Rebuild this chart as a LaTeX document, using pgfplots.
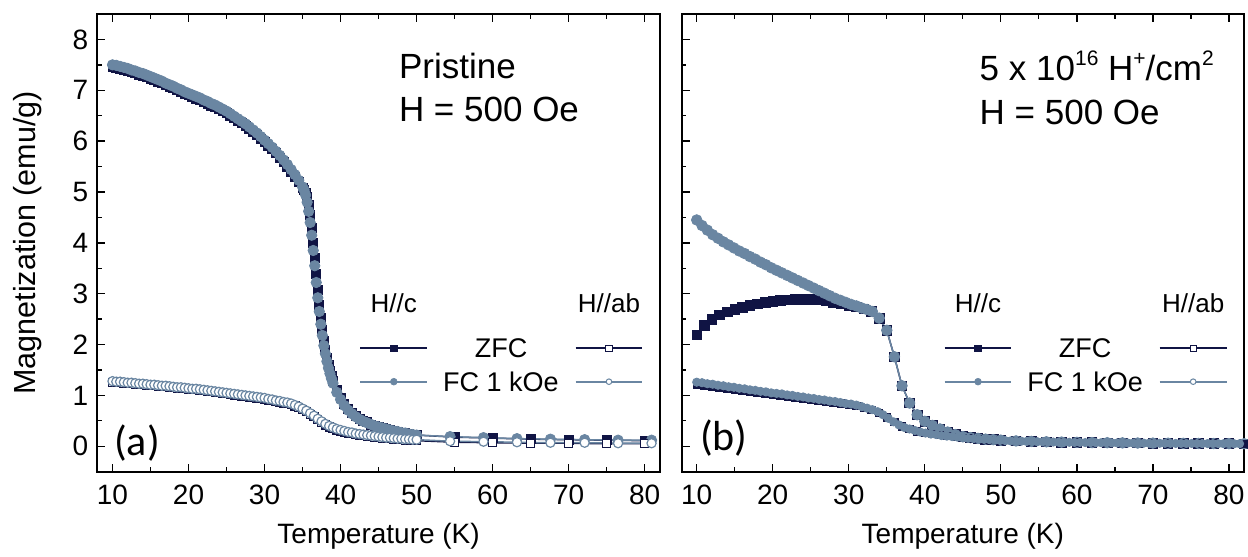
\documentclass[border=0pt]{standalone}
\usepackage{fontspec}
\setmainfont{Liberation Sans}
\newfontfamily\panelfont{Carlito}
\usepackage{pgfplots}
\usepackage{pgfplotstable}
\pgfplotsset{compat=1.18}

\definecolor{navy}{RGB}{16,20,68}
\definecolor{steel}{RGB}{106,134,162}

\newcommand\tickfont{\fontsize{28}{28}\selectfont}
\newcommand\labfont{\fontsize{28}{28}\selectfont}
\newcommand\ylabfont{\fontsize{30.5}{30.5}\selectfont}
\newcommand\annfont{\fontsize{35}{35}\selectfont}
\newcommand\legfont{\fontsize{27}{27}\selectfont}
\newcommand\hdrfont{\fontsize{26}{26}\selectfont}
\newcommand\tagfont{\panelfont\fontsize{42}{42}\selectfont}
\newcommand\sups[1]{\raisebox{0.42em}{\fontsize{21}{21}\selectfont #1}}

% ---------------- pristine sample, H // c ----------------
\pgfplotstableread{
T zfc fc
10.0 7.46 7.50
10.5 7.45 7.49
11.0 7.43 7.47
11.5 7.41 7.45
12.0 7.39 7.43
12.5 7.36 7.40
13.0 7.34 7.38
13.5 7.31 7.35
14.0 7.29 7.33
14.5 7.26 7.30
15.0 7.23 7.27
15.5 7.20 7.24
16.0 7.17 7.21
16.5 7.14 7.18
17.0 7.10 7.14
17.5 7.07 7.11
18.0 7.04 7.08
18.5 7.00 7.04
19.0 6.97 7.01
19.5 6.93 6.97
20.0 6.90 6.94
20.5 6.87 6.91
21.0 6.84 6.88
21.5 6.81 6.85
22.0 6.77 6.81
22.5 6.74 6.78
23.0 6.70 6.74
23.5 6.67 6.71
24.0 6.63 6.67
24.5 6.59 6.63
25.0 6.55 6.59
25.5 6.50 6.54
26.0 6.45 6.49
26.5 6.40 6.44
27.0 6.35 6.39
27.5 6.30 6.34
28.0 6.24 6.28
28.5 6.18 6.22
29.0 6.12 6.16
29.5 6.05 6.09
30.0 5.98 6.02
30.5 5.91 5.95
31.0 5.84 5.88
31.5 5.76 5.80
32.0 5.68 5.72
32.5 5.59 5.63
33.0 5.50 5.54
33.5 5.40 5.44
34.0 5.30 5.34
34.5 5.20 5.23
35.0 5.09 5.10
35.2 5.05 5.04
35.4 4.99 4.94
35.6 4.90 4.80
35.8 4.75 4.62
36.0 4.55 4.40
36.2 4.30 4.15
36.4 4.00 3.85
36.6 3.70 3.55
36.8 3.38 3.22
37.0 3.07 2.92
37.2 2.78 2.65
37.4 2.52 2.40
37.6 2.29 2.18
37.8 2.08 1.98
38.0 1.90 1.82
38.2 1.74 1.67
38.4 1.60 1.54
38.6 1.48 1.43
38.8 1.38 1.33
39.0 1.28 1.24
39.5 1.10 1.06
40.0 0.95 0.92
40.5 0.83 0.80
41.0 0.73 0.71
41.5 0.66 0.64
42.0 0.59 0.58
42.5 0.54 0.53
43.0 0.50 0.49
43.5 0.47 0.46
44.0 0.43 0.43
44.5 0.41 0.40
45.0 0.38 0.38
45.5 0.36 0.36
46.0 0.34 0.34
46.5 0.32 0.32
47.0 0.30 0.30
47.5 0.29 0.29
48.0 0.27 0.27
48.5 0.26 0.26
49.0 0.24 0.24
49.5 0.23 0.23
50.0 0.22 0.22
54.4 nan 0.19
55.0 0.18 nan
58.8 nan 0.17
60.0 0.16 nan
63.2 nan 0.15
65.0 0.14 nan
67.6 nan 0.14
70.0 0.13 nan
72.1 nan 0.13
75.0 0.12 nan
76.5 nan 0.12
80.0 0.11 nan
80.9 nan 0.12
}\leftC

% ---------------- pristine sample, H // ab ----------------
\pgfplotstableread{
T zfc fc
10.0 1.26 1.28
10.5 1.25 1.27
11.0 1.25 1.27
11.5 1.24 1.26
12.0 1.23 1.25
12.5 1.23 1.25
13.0 1.22 1.24
13.5 1.21 1.23
14.0 1.21 1.23
14.5 1.20 1.22
15.0 1.19 1.21
15.5 1.19 1.21
16.0 1.18 1.20
16.5 1.17 1.19
17.0 1.17 1.19
17.5 1.16 1.18
18.0 1.15 1.17
18.5 1.14 1.16
19.0 1.14 1.16
19.5 1.13 1.15
20.0 1.12 1.14
20.5 1.11 1.13
21.0 1.11 1.13
21.5 1.10 1.12
22.0 1.09 1.11
22.5 1.08 1.10
23.0 1.07 1.09
23.5 1.06 1.08
24.0 1.05 1.07
24.5 1.04 1.06
25.0 1.03 1.05
25.5 1.02 1.04
26.0 1.01 1.03
26.5 1.00 1.02
27.0 0.99 1.01
27.5 0.98 1.00
28.0 0.97 0.99
28.5 0.96 0.98
29.0 0.95 0.97
29.5 0.94 0.96
30.0 0.93 0.95
30.5 0.91 0.93
31.0 0.90 0.92
31.5 0.88 0.90
32.0 0.87 0.89
32.5 0.85 0.87
33.0 0.84 0.86
33.5 0.82 0.84
34.0 0.79 0.81
34.5 0.76 0.78
35.0 0.72 0.74
35.5 0.68 0.70
36.0 0.63 0.65
36.5 0.58 0.60
37.0 0.52 0.54
37.5 0.47 0.49
38.0 0.42 0.44
38.5 0.38 0.40
39.0 0.35 0.37
39.5 0.32 0.34
40.0 0.30 0.32
40.5 0.28 0.30
41.0 0.26 0.28
41.5 0.25 0.27
42.0 0.23 0.25
42.5 0.22 0.24
43.0 0.21 0.23
43.5 0.20 0.22
44.0 0.19 0.21
44.5 0.18 0.20
45.0 0.17 0.19
45.5 0.16 0.18
46.0 0.15 0.17
46.5 0.15 0.17
47.0 0.14 0.16
47.5 0.13 0.15
48.0 0.13 0.15
48.5 0.12 0.14
49.0 0.12 0.14
49.5 0.11 0.13
50.0 0.11 0.13
54.4 nan 0.10
55.0 0.08 nan
58.8 nan 0.09
60.0 0.07 nan
63.2 nan 0.08
65.0 0.06 nan
67.6 nan 0.07
70.0 0.06 nan
72.1 nan 0.07
75.0 0.05 nan
76.5 nan 0.06
80.0 0.05 nan
80.9 nan 0.06
}\leftAB

% ---------------- irradiated sample, H // c, field cooled ----------------
\pgfplotstableread{
T fc
10.0 4.45
10.7 4.34
11.4 4.25
12.1 4.16
12.8 4.09
13.5 4.02
14.2 3.96
14.9 3.90
15.6 3.84
16.3 3.79
17.0 3.73
17.7 3.68
18.4 3.62
19.1 3.57
19.8 3.51
20.5 3.46
21.2 3.41
21.9 3.36
22.6 3.31
23.3 3.26
24.0 3.21
24.7 3.16
25.4 3.11
26.1 3.06
26.8 3.01
27.5 2.96
28.2 2.91
28.9 2.87
29.6 2.83
30.3 2.79
31.0 2.76
31.7 2.72
32.4 2.69
33.1 2.65
34.0 2.52
35.0 2.28
36.0 1.76
37.0 1.19
38.0 0.85
39.0 0.62
40.0 0.49
41.0 0.41
42.0 0.34
43.0 0.28
44.0 0.23
45.0 0.19
46.0 0.17
47.0 0.155
48.0 0.14
49.0 0.13
50.0 0.12
52.0 0.105
54.0 0.095
56.0 0.088
58.0 0.082
60.0 0.077
62.0 0.073
64.0 0.070
66.0 0.067
68.0 0.064
70.0 0.062
72.0 0.060
74.0 0.058
76.0 0.056
78.0 0.054
80.0 0.052
82.0 0.050
}\rightFCc

% ---------------- irradiated sample, H // c, zero-field cooled ----------------
\pgfplotstableread{
T zfc
10 2.19
11 2.38
12 2.50
13 2.58
14 2.64
15 2.69
16 2.73
17 2.77
18 2.80
19 2.83
20 2.85
21 2.87
22 2.88
23 2.89
24 2.89
25 2.89
26 2.88
27 2.86
28 2.83
29 2.80
30 2.77
31 2.74
32 2.70
33 2.65
34 2.52
35 2.28
36 1.76
37 1.19
38 0.85
39 0.62
40 0.49
41 0.41
42 0.34
43 0.28
44 0.23
45 0.19
46 0.17
47 0.155
48 0.14
49 0.13
50 0.12
52 0.105
54 0.095
56 0.088
58 0.082
60 0.077
62 0.073
64 0.070
66 0.067
68 0.064
70 0.062
72 0.060
74 0.058
76 0.056
78 0.054
80 0.052
82 0.050
}\rightZFCc

% ---------------- irradiated sample, H // ab, field cooled ----------------
\pgfplotstableread{
T fc
10.0 1.26
10.7 1.25
11.4 1.23
12.1 1.22
12.8 1.20
13.5 1.19
14.2 1.17
14.9 1.16
15.6 1.14
16.3 1.13
17.0 1.11
17.7 1.10
18.4 1.08
19.1 1.07
19.8 1.05
20.5 1.04
21.2 1.03
21.9 1.01
22.6 1.00
23.3 0.98
24.0 0.97
24.7 0.95
25.4 0.94
26.1 0.92
26.8 0.91
27.5 0.89
28.2 0.88
28.9 0.86
29.6 0.84
30.3 0.83
31.0 0.81
31.7 0.78
32.4 0.75
33.1 0.72
33.8 0.68
34.5 0.62
35.2 0.55
35.9 0.48
36.6 0.42
37.3 0.37
38.0 0.34
38.7 0.31
39.4 0.28
40.1 0.26
40.8 0.24
41.5 0.23
42.2 0.21
42.9 0.20
43.6 0.19
44.3 0.18
45.0 0.165
45.7 0.155
46.4 0.150
47.1 0.140
47.8 0.135
48.5 0.130
49.2 0.120
49.9 0.115
50.6 0.110
51.3 0.105
52.0 0.100
52.7 0.100
53.4 0.095
54.1 0.090
54.8 0.090
55.5 0.088
56.2 0.085
56.9 0.083
57.6 0.080
58.3 0.080
59.0 0.078
59.7 0.076
60.4 0.075
61.1 0.073
61.8 0.072
62.5 0.070
63.2 0.070
63.9 0.068
64.6 0.067
65.3 0.066
66.0 0.065
66.7 0.064
67.4 0.063
68.1 0.062
68.8 0.061
69.5 0.060
70.2 0.060
70.9 0.059
71.6 0.058
72.3 0.057
73.0 0.056
73.7 0.056
74.4 0.055
75.1 0.055
75.8 0.054
76.5 0.053
77.2 0.053
77.9 0.052
78.6 0.052
79.3 0.051
80.0 0.050
80.7 0.050
81.4 0.050
}\rightFCab

% ---------------- irradiated sample, H // ab, zero-field cooled ----------------
\pgfplotstableread{
T zfc
10 1.20
11 1.19
12 1.17
13 1.15
14 1.13
15 1.11
16 1.09
17 1.07
18 1.05
19 1.03
20 1.01
21 0.99
22 0.97
23 0.96
24 0.94
25 0.92
26 0.90
27 0.88
28 0.86
29 0.84
30 0.82
31 0.79
32 0.75
33 0.71
34 0.65
35 0.57
36 0.48
37 0.39
38 0.34
39 0.29
40 0.26
41 0.24
42 0.22
43 0.20
44 0.18
45 0.165
46 0.15
47 0.14
48 0.13
49 0.12
50 0.11
52 0.10
54 0.09
56 0.085
58 0.08
60 0.075
62 0.07
64 0.067
66 0.065
68 0.062
70 0.06
72 0.057
74 0.055
76 0.053
78 0.052
80 0.05
82 0.05
}\rightZFCab

\pgfplotsset{
  magaxis/.style={
    scale only axis, width=562.6pt, height=457.7pt,
    xmin=8, xmax=82, ymin=-0.5, ymax=8.5,
    xtick={10,20,...,80}, minor x tick num=1,
    ytick={0,1,...,8}, minor y tick num=1,
    tick align=inside, xtick pos=both, ytick pos=left,
    axis line style={line width=2pt},
    major tick length=8pt, minor tick length=4.5pt,
    tick style={black, line width=1.3pt},
    tick label style={font=\tickfont, inner sep=0pt},
    /pgf/number format/assume math mode=true,
    xticklabel style={yshift=-13pt},
    yticklabel style={xshift=-9pt},
    label style={font=\labfont},
    xlabel={Temperature (K)},
    xlabel style={at={(rel axis cs:0.5,-0.142)}, anchor=center},
  },
  zfcC/.style={navy, line width=1.5pt, mark=square*, mark size=4.2pt,
    mark options={fill=navy, draw=navy, line width=0.8pt}},
  fcC/.style={steel, line width=1.5pt, mark=*, mark size=4.8pt,
    mark options={fill=steel, draw=steel, line width=0.8pt}},
  zfcA/.style={navy, line width=1.5pt, mark=square*, mark size=4pt,
    mark options={fill=white, draw=navy, line width=1.2pt}},
  fcA/.style={steel, line width=1.5pt, mark=*, mark size=4.3pt,
    mark options={fill=white, draw=steel, line width=1.2pt}},
}

% key: short line samples with one symbol in the middle, plus headers
\newcommand\keyblock{%
  \addplot[navy, line width=2.2pt, mark=square*, mark size=3.3pt, mark indices={2},
    mark options={fill=navy, draw=navy, line width=0.6pt}]
    coordinates {(42.6,1.93) (47.0,1.93) (51.4,1.93)};
  \addplot[steel, line width=2.2pt, mark=*, mark size=3.4pt, mark indices={2},
    mark options={fill=steel, draw=steel, line width=0.6pt}]
    coordinates {(42.6,1.27) (47.0,1.27) (51.4,1.27)};
  \addplot[navy, line width=2.2pt, mark=square*, mark size=3.1pt, mark indices={2},
    mark options={fill=white, draw=navy, line width=1pt}]
    coordinates {(70.9,1.93) (75.3,1.93) (79.7,1.93)};
  \addplot[steel, line width=2.2pt, mark=*, mark size=2.8pt, mark indices={2},
    mark options={fill=white, draw=steel, line width=1pt}]
    coordinates {(70.9,1.27) (75.3,1.27) (79.7,1.27)};
  \node[anchor=base, inner sep=0pt, font=\hdrfont] at (axis cs:47.0,2.63) {H//c};
  \node[anchor=base, inner sep=0pt, font=\hdrfont] at (axis cs:75.3,2.63) {H//ab};
  \node[anchor=center, inner sep=0pt, font=\legfont] at (axis cs:61.1,1.93) {ZFC};
  \node[anchor=center, inner sep=0pt, font=\legfont] at (axis cs:61.1,1.27) {FC 1 kOe};
}

\begin{document}
\begin{tikzpicture}
\useasboundingbox (0,0) rectangle (1248pt,557pt);

\begin{axis}[magaxis, at={(97.3pt,85.3pt)}, anchor=south west,
  ylabel={Magnetization (emu/g)},
  ylabel style={at={(rel axis cs:-0.1247,0.5)}, anchor=center, font=\ylabfont}]
  \addplot[zfcC, mark size=4.5pt] table[x=T, y=zfc] {\leftC};
  \addplot[fcC, mark size=5.2pt]  table[x=T, y=fc]  {\leftC};
  \addplot[zfcA] table[x=T, y=zfc] {\leftAB};
  \addplot[fcA, mark size=4.6pt]  table[x=T, y=fc]  {\leftAB};
  \keyblock
  \node[anchor=base west, inner sep=0pt, font=\annfont] at (axis cs:47.66,7.24) {Pristine};
  \node[anchor=base west, inner sep=0pt, font=\annfont] at (axis cs:47.66,6.39) {H = 500 Oe};
  \node[anchor=west, inner sep=0pt, font=\tagfont] at (axis cs:10.2,0.07) {(a)};
\end{axis}

\begin{axis}[magaxis, at={(681.5pt,85.3pt)}, anchor=south west,
  yticklabels={}]
  \addplot[zfcC, mark size=4.8pt] table[x=T, y=zfc] {\rightZFCc};
  \addplot[fcC, mark size=5.3pt] table[x=T, y=fc] {\rightFCc};
  \addplot[zfcA, mark size=3.7pt, mark options={line width=0.9pt}] table[x=T, y=zfc] {\rightZFCab};
  \addplot[fcA, line width=1.2pt, mark size=4.1pt, mark options={line width=0.9pt}] table[x=T, y=fc] {\rightFCab};
  \keyblock
  \node[anchor=base west, inner sep=0pt, font=\annfont] at (axis cs:47.2,7.20)
    {5 x 10\sups{16} H\sups{+}/cm\sups{2}};
  \node[anchor=base west, inner sep=0pt, font=\annfont] at (axis cs:47.2,6.32) {H = 500 Oe};
  \node[anchor=west, inner sep=0pt, font=\tagfont] at (axis cs:10.43,0.16) {(b)};
\end{axis}
\end{tikzpicture}
\end{document}
